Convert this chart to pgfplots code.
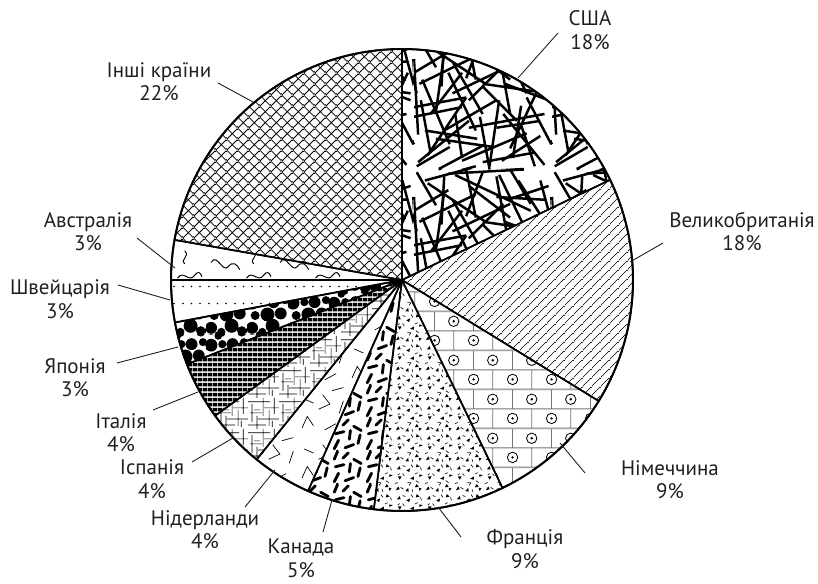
\documentclass[border=0pt]{standalone}
\usepackage{fontspec}
\setmainfont{PT Sans}
\usepackage{pgfplots}
\pgfplotsset{compat=1.18}
\usetikzlibrary{patterns.meta}
\definecolor{txt}{HTML}{231F20}
\def\pscale{1.38}
\newcommand\stickset{%
  \foreach \ox in {-100,0,100}{\foreach \oy in {-100,0,100}{
    \begin{scope}[shift={(\ox,\oy)}]
    \draw[black,line width=1.8pt]
      (3,5)--(40,35) (10,90)--(52,62) (55,2)--(62,50) (70,15)--(96,70)
      (6,65)--(26,18) (25,97)--(80,100) (40,30)--(95,40) (82,55)--(62,96)
      (0,45)--(38,52) (18,0)--(52,18) (28,55)--(70,75) (88,2)--(78,32)
      (45,65)--(38,100) (92,92)--(102,55) (2,98)--(16,74) (66,62)--(98,50)
      (8,28)--(46,22) (64,6)--(92,24) (16,42)--(22,84) (50,40)--(28,78)
      (35,8)--(30,40) (60,80)--(95,78) (75,35)--(50,60) (12,12)--(5,50)
      (85,75)--(70,100) (40,88)--(70,65);
    \end{scope}}}}

% ---------- patterns ----------
\tikzdeclarepattern{name=sticks,type=colored,tile transformation={scale=\pscale},
  bounding box={(0pt,0pt) and (100pt,100pt)},tile size={(100pt,100pt)},
  code={\tikzset{x=1pt,y=1pt}
    \stickset
    \begin{scope}[rotate around={90:(50,50)}]\stickset\end{scope}}}
\tikzdeclarepattern{name=ukl,type=colored,tile transformation={scale=\pscale},
  bounding box={(0pt,0pt) and (6.5pt,6.5pt)},tile size={(6.5pt,6.5pt)},
  code={\tikzset{x=1pt,y=1pt}
    \draw[black,line width=0.5pt] (-1,-1)--(7.5,7.5) (-1,5.5)--(1,7.5) (5.5,-1)--(7.5,1);}}
\tikzdeclarepattern{name=bricks,type=colored,tile transformation={scale=\pscale},
  bounding box={(0pt,0pt) and (28pt,28pt)},tile size={(28pt,28pt)},
  code={\tikzset{x=1pt,y=1pt}
    \draw[black!55,line width=0.6pt] (0,0)--(28,0) (0,14)--(28,14) (0,28)--(28,28)
      (21,0)--(21,14) (7,14)--(7,28);
    \draw[black,line width=0.6pt] (7,7) circle[radius=3.8] (21,21) circle[radius=3.8];
    \fill[black] (7,7) circle[radius=0.95] (21,21) circle[radius=0.95];}}
\tikzdeclarepattern{name=specks,type=colored,tile transformation={scale=\pscale},
  bounding box={(0pt,0pt) and (22pt,22pt)},tile size={(22pt,22pt)},
  code={\tikzset{x=0.7pt,y=0.7pt}
    \fill[black] (2,3)--++(4,1)--++(-1.5,3)--cycle (12,2)--++(3.5,-0.5)--++(-0.5,4)--cycle
      (22,6)--++(4,0.5)--++(-2,3)--cycle (6,14)--++(2,3.5)--++(-4,0)--cycle
      (17,15)--++(4,-1)--++(0,3.5)--cycle (27,17)--++(3.5,2)--++(-4,0.5)--cycle
      (3,25)--++(4,0)--++(-1,3.5)--cycle (13,24)--++(3,-2)--++(1,4)--cycle
      (23,27)--++(4,1)--++(-3,2.5)--cycle (27,2)--++(2,3)--++(-3,0.5)--cycle;
    \draw[black,line width=0.45pt] (7,6)--++(3,-2) (16,8)--++(2,3) (26,11)--++(-3,2)
      (1,10)--++(3,1) (11,18)--++(-2,2.5) (22,20)--++(3,1.5) (29,24)--++(-1,3)
      (9,29)--++(3,-1) (18,30)--++(2,-3) (4,19)--++(2,1.5) (20,1)--++(-1,3) (14,11)--++(3,0);}}
\tikzdeclarepattern{name=dashes,type=colored,tile transformation={scale=\pscale},
  bounding box={(0pt,0pt) and (24pt,24pt)},tile size={(24pt,24pt)},
  code={\tikzset{x=0.8pt,y=0.8pt}
    \foreach \ox in {-30,0,30}{\foreach \oy in {-30,0,30}{
    \begin{scope}[shift={(\ox,\oy)}]
    \draw[black,line width=2.1pt,line cap=round]
      (3,2)--(7,10) (13,3)--(21,6) (25,7)--(27,15) (4,16)--(12,18)
      (17,11)--(18,19) (21,23)--(28,19) (3,23)--(6,30) (11,24)--(16,29);
    \end{scope}}}}}
\tikzdeclarepattern{name=vees,type=colored,tile transformation={scale=\pscale},
  bounding box={(0pt,0pt) and (36pt,36pt)},tile size={(36pt,36pt)},
  code={\tikzset{x=0.75pt,y=0.75pt}
    \draw[black,line width=0.5pt] (4,6)--(9,17)--(15,8) (26,4)--(37,10) (40,20)--(44,32)
      (20,24)--(31,29)--(24,38) (6,34)--(15,30) (33,42)--(44,45);}}
\tikzdeclarepattern{name=meshlines,type=colored,tile transformation={scale=\pscale},
  bounding box={(0pt,0pt) and (22.5pt,22.5pt)},tile size={(22.5pt,22.5pt)},
  code={\tikzset{x=0.75pt,y=0.75pt}
    \foreach \ox in {-30,0,30}{\foreach \oy in {-30,0,30}{
    \begin{scope}[shift={(\ox,\oy)}]
    \draw[black,line width=0.5pt]
      (0,3)--(18,3) (10,9)--(30,9) (2,15)--(14,15) (16,20)--(30,20) (0,26)--(22,26)
      (4,6)--(4,24) (9,0)--(9,12) (15,12)--(15,30) (21,2)--(21,18) (26,14)--(26,30)
      (6,18)--(12,18) (24,1)--(24,7);
    \end{scope}}}}}
\tikzdeclarepattern{name=squares,type=colored,tile transformation={scale=\pscale},
  bounding box={(0pt,0pt) and (3.9pt,3.9pt)},tile size={(3.9pt,3.9pt)},
  code={\tikzset{x=1pt,y=1pt}
    \fill[black] (0.6,0.6) rectangle (3.3,3.3);}}
\tikzdeclarepattern{name=blobs,type=colored,tile transformation={scale=\pscale},
  bounding box={(0pt,0pt) and (30pt,30pt)},tile size={(30pt,30pt)},
  code={\tikzset{x=0.75pt,y=0.75pt}
    \foreach \ox in {-40,0,40}{\foreach \oy in {-40,0,40}{
    \begin{scope}[shift={(\ox,\oy)}]
    \fill[black] (5,6) circle[radius=5.8] (15,2) circle[radius=4] (25,8) circle[radius=6.8]
      (35,3) circle[radius=4.6] (8,18) circle[radius=4.4] (20,19) circle[radius=6.8]
      (33,20) circle[radius=5.8] (5,30) circle[radius=6.2] (16,31) circle[radius=4]
      (26,31) circle[radius=5.8] (37,33) circle[radius=3.9] (12,39) circle[radius=3.7];
    \end{scope}}}}}
\tikzdeclarepattern{name=sdots,type=colored,tile transformation={scale=\pscale},
  bounding box={(0pt,0pt) and (18.5pt,12.3pt)},tile size={(18.5pt,12.3pt)},
  code={\tikzset{x=1pt,y=1pt}
    \fill[black] (3,6.15) circle[radius=0.65] (9.2,6.15) circle[radius=0.65] (15.4,6.15) circle[radius=0.65];}}
\tikzdeclarepattern{name=waves,type=colored,tile transformation={scale=\pscale},
  bounding box={(0pt,0pt) and (50pt,27pt)},tile size={(50pt,27pt)},
  code={\tikzset{x=1.04pt,y=1.04pt}
    \draw[black,line width=0.7pt,line cap=round]
      (3,16) .. controls (7,23) and (11,8) .. (15,13) .. controls (18,17) and (21,15) .. (23,11)
      (28,5) .. controls (32,11) and (36,1) .. (40,7) .. controls (42,10) and (44,9) .. (45,6)
      (33,15) .. controls (29,18) and (37,20) .. (33,24);}}
\tikzdeclarepattern{name=xhatch,type=colored,tile transformation={scale=\pscale},
  bounding box={(0pt,0pt) and (7.8pt,7.8pt)},tile size={(7.8pt,7.8pt)},
  code={\tikzset{x=1pt,y=1pt}
    \draw[black,line width=0.55pt] (-1,-1)--(8.8,8.8) (-1,8.8)--(8.8,-1);}}

\newcommand\lbl{\fontsize{21}{23.5}\selectfont}

\begin{document}
\begin{tikzpicture}
\begin{axis}[x=1pt,y=1pt,hide axis,scale only axis,clip=false,
  xmin=-402,xmax=416,ymin=-303,ymax=280,
  every axis plot/.append style={no markers},
  slice/.style={draw=black,line width=1.6pt,line join=round,samples=60,variable=\t}]
% slices: domain = start angle : end angle (degrees, counterclockwise from east)
\addplot[slice,pattern=sticks,domain=25.7:90]      ({231*cos(\t)},{231*sin(\t)}) -- (0,0) -- cycle;
\addplot[slice,pattern=ukl,domain=-31.6:25.7]      ({231*cos(\t)},{231*sin(\t)}) -- (0,0) -- cycle;
\addplot[slice,pattern=bricks,domain=-64.2:-31.6]  ({231*cos(\t)},{231*sin(\t)}) -- (0,0) -- cycle;
\addplot[slice,pattern=specks,domain=-97:-64.2]    ({231*cos(\t)},{231*sin(\t)}) -- (0,0) -- cycle;
\addplot[slice,pattern=dashes,domain=-114:-97]     ({231*cos(\t)},{231*sin(\t)}) -- (0,0) -- cycle;
\addplot[slice,pattern=vees,domain=-129:-114]      ({231*cos(\t)},{231*sin(\t)}) -- (0,0) -- cycle;
\addplot[slice,pattern=meshlines,domain=-144:-129] ({231*cos(\t)},{231*sin(\t)}) -- (0,0) -- cycle;
\addplot[slice,pattern=squares,domain=-158.6:-144] ({231*cos(\t)},{231*sin(\t)}) -- (0,0) -- cycle;
\addplot[slice,pattern=blobs,domain=-169.4:-158.6] ({231*cos(\t)},{231*sin(\t)}) -- (0,0) -- cycle;
\addplot[slice,pattern=sdots,domain=-180:-169.4]   ({231*cos(\t)},{231*sin(\t)}) -- (0,0) -- cycle;
\addplot[slice,pattern=waves,domain=-190:-180]     ({231*cos(\t)},{231*sin(\t)}) -- (0,0) -- cycle;
\addplot[slice,pattern=xhatch,domain=-270:-190]    ({231*cos(\t)},{231*sin(\t)}) -- (0,0) -- cycle;
% outer rim
\addplot[draw=black,line width=2pt,domain=0:360,samples=180,variable=\t] ({231*cos(\t)},{231*sin(\t)});
% leader lines
\addplot[txt,line width=0.9pt] coordinates {(116,202) (156,247)};
\addplot[txt,line width=0.9pt] coordinates {(228,18) (261,37)};
\addplot[txt,line width=0.9pt] coordinates {(158,-163) (183,-193)};
\addplot[txt,line width=0.9pt] coordinates {(36,-227) (59,-257)};
\addplot[txt,line width=0.9pt] coordinates {(-70,-220) (-79,-252)};
\addplot[txt,line width=0.9pt] coordinates {(-127,-190) (-157,-227)};
\addplot[txt,line width=0.9pt] coordinates {(-169,-158) (-210,-182)};
\addplot[txt,line width=0.9pt] coordinates {(-204,-112) (-249,-130)};
\addplot[txt,line width=0.9pt] coordinates {(-224,-67) (-285,-83)};
\addplot[txt,line width=0.9pt] coordinates {(-232,-20) (-284,-5)};
\addplot[txt,line width=0.9pt] coordinates {(-227,12) (-265,42)};
\addplot[txt,line width=0.9pt] coordinates {(-149,178) (-184,197)};
% labels
\begin{scope}[every node/.style={align=center,font=\lbl,text=txt,inner sep=0pt}]
\node at (axis cs:188,250) {США\\18\%};
\node at (axis cs:340,48.5) {Великобританія\\18\%};
\node at (axis cs:268,-199.5) {Німеччина\\9\%};
\node at (axis cs:123,-269) {Франція\\9\%};
\node at (axis cs:-101,-278.5) {Канада\\5\%};
\node at (axis cs:-197,-249.5) {Нідерланди\\4\%};
\node at (axis cs:-250,-199) {Іспанія\\4\%};
\node at (axis cs:-281,-152.5) {Італія\\4\%};
\node at (axis cs:-327,-97.5) {Японія\\3\%};
\node at (axis cs:-342,-19) {Швейцарія\\3\%};
\node at (axis cs:-314,48.5) {Австралія\\3\%};
\node at (axis cs:-243,198.5) {Інші країни\\22\%};
\end{scope}
\path (axis cs:-402,-303) rectangle (axis cs:416,280);
\end{axis}
\end{tikzpicture}
\end{document}
